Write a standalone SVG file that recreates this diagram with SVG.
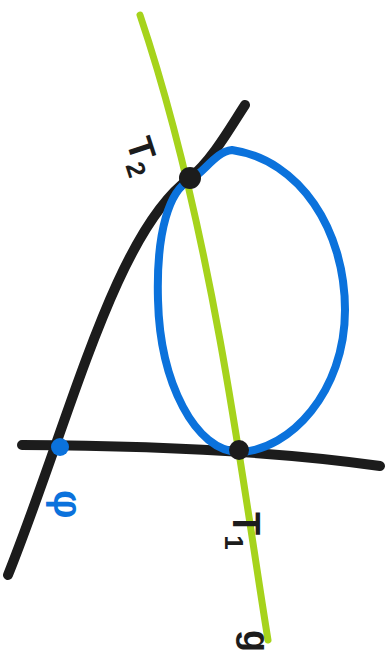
<svg xmlns="http://www.w3.org/2000/svg" width="387" height="665" viewBox="0 0 387 665">
<style>
.ink{fill:none;stroke-linecap:round;stroke-linejoin:round}
.blk{stroke:#1c1c1c;stroke-width:10}
.grn{stroke:#a6d31c;stroke-width:7}
.blu{stroke:#0b72dc;stroke-width:8}
.lbl{font-family:"Liberation Sans",Arial,sans-serif;font-weight:bold}
</style>
<rect width="387" height="665" fill="#ffffff"/>
<g id="connectors">
<path class="ink grn" d="M140,15 C 172,110 200,230 220,340 S 255,560 268,640"/>
<path class="ink blk" d="M22,445 Q 240,446 380,466"/>
<path class="ink blk" d="M8,575 C 70,420 115,232 190,178 C 212,160 230,128 245,105"/>
</g>
<g id="ellipse">
<path class="ink blu" d="M232,150 C 300,160 345,230 345,310 C 345,392 290,450 240,452 C 195,452 160,382 158,300 C 156,230 170,190 190,180 C 205,172 215,152 232,150 Z"/>
</g>
<g id="T2">
<circle cx="190" cy="178" r="11" fill="#1c1c1c"/>
<text class="lbl" fill="#1c1c1c" font-size="36" transform="translate(126,142) rotate(72)">T<tspan font-size="26" dy="8">2</tspan></text>
</g>
<g id="T1">
<circle cx="239" cy="450" r="10" fill="#1c1c1c"/>
<text class="lbl" fill="#1c1c1c" font-size="38" transform="translate(233,512) rotate(90)">T<tspan font-size="26" dy="8">1</tspan></text>
</g>
<g id="phi">
<circle cx="60" cy="447" r="9" fill="#0b72dc"/>
<text class="lbl" fill="#0b72dc" font-size="40" transform="translate(54,490) rotate(90)">φ</text>
</g>
<g id="g">
<text class="lbl" fill="#1c1c1c" font-size="36" transform="translate(244,630) rotate(90)">g</text>
</g>
</svg>
